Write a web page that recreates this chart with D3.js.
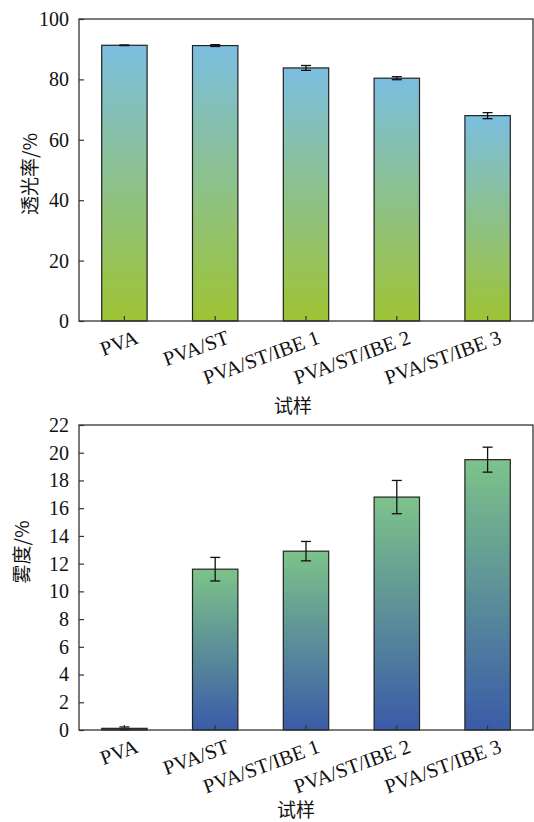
<!DOCTYPE html>
<html>
<head>
<meta charset="utf-8">
<script src="https://cdn.jsdelivr.net/npm/d3@7"></script>
<style>
  body { margin: 0; background: #fff; }
  text { font-family: "Liberation Serif", "Times New Roman", "Noto Sans CJK SC", serif; fill: #111; }
</style>
</head>
<body>
<svg id="chart" width="534" height="822"></svg>
<script>
// samples
var samples = ["PVA", "PVA/ST", "PVA/ST/IBE 1", "PVA/ST/IBE 2", "PVA/ST/IBE 3"];

// transmittance (%) and its error
var transValues = [91.3, 91.2, 83.8, 80.4, 68.0];
var transErrors = [0.1, 0.3, 0.8, 0.5, 1.0];
var transTicks = [0, 20, 40, 60, 80, 100];

// haze (%) and its error
var hazeValues = [0.12, 11.6, 12.9, 16.8, 19.5];
var hazeErrors = [0.1, 0.85, 0.7, 1.2, 0.9];
var hazeTicks = [0, 2, 4, 6, 8, 10, 12, 14, 16, 18, 20, 22];

var svg = d3.select("#chart");
var defs = svg.append("defs");

function makeGradient(id, topColor, bottomColor) {
    var g = defs.append("linearGradient")
        .attr("id", id)
        .attr("x1", 0).attr("y1", 0)
        .attr("x2", 0).attr("y2", 1);
    g.append("stop").attr("offset", "0%").attr("stop-color", topColor);
    g.append("stop").attr("offset", "100%").attr("stop-color", bottomColor);
}
makeGradient("gradTrans", "#7bbee0", "#9ec434");
makeGradient("gradHaze", "#7dc38a", "#3a5ba8");

function drawPanel(opt) {
    var x = d3.scaleBand()
        .domain(samples)
        .range([opt.left, opt.right])
        .paddingInner(0.5)
        .paddingOuter(0.25);

    var y = d3.scaleLinear()
        .domain(opt.domain)
        .range([opt.bottom, opt.top]);

    var g = svg.append("g");

    // bars
    g.selectAll(".bar")
        .data(opt.values)
        .enter()
        .append("rect")
        .attr("x", function(d, i) { return x(samples[i]); })
        .attr("width", x.bandwidth())
        .attr("y", function(d) { return y(d); })
        .attr("height", function(d) { return opt.bottom - y(d); })
        .style("fill", "url(#" + opt.grad + ")")
        .style("stroke", "#222")
        .style("stroke-width", 1.2);

    // error bars
    var cap = 5;
    var eb = g.selectAll(".err")
        .data(opt.values)
        .enter()
        .append("g")
        .attr("transform", function(d, i) {
            return "translate(" + (x(samples[i]) + x.bandwidth() / 2) + ",0)";
        });
    eb.append("line")
        .attr("y1", function(d, i) { return y(d + opt.errors[i]); })
        .attr("y2", function(d, i) { return y(Math.max(0, d - opt.errors[i])); })
        .style("stroke", "#111").style("stroke-width", 1.3);
    eb.append("line")
        .attr("x1", -cap).attr("x2", cap)
        .attr("y1", function(d, i) { return y(d + opt.errors[i]); })
        .attr("y2", function(d, i) { return y(d + opt.errors[i]); })
        .style("stroke", "#111").style("stroke-width", 1.3);
    eb.append("line")
        .attr("x1", -cap).attr("x2", cap)
        .attr("y1", function(d, i) { return y(Math.max(0, d - opt.errors[i])); })
        .attr("y2", function(d, i) { return y(Math.max(0, d - opt.errors[i])); })
        .style("stroke", "#111").style("stroke-width", 1.3);

    // frame
    g.append("rect")
        .attr("x", opt.left)
        .attr("y", opt.top)
        .attr("width", opt.right - opt.left)
        .attr("height", opt.bottom - opt.top)
        .style("fill", "none")
        .style("stroke", "#333")
        .style("stroke-width", 1.3);

    // y axis, ticks pointing inward
    var yAxis = d3.axisLeft(y)
        .tickValues(opt.ticks)
        .tickSize(-5)
        .tickPadding(10)
        .tickFormat(d3.format("d"));
    var ya = g.append("g")
        .attr("transform", "translate(" + opt.left + ",0)")
        .call(yAxis);
    ya.select(".domain").remove();
    ya.selectAll("line").style("stroke", "#333").style("stroke-width", 1.2);
    ya.selectAll("text")
        .style("font-size", "20px")
        .style("font-family", "'Liberation Serif', serif")
        .attr("fill", "#111");

    // x ticks, inward
    g.selectAll(".xtick")
        .data(samples)
        .enter()
        .append("line")
        .attr("x1", function(d) { return x(d) + x.bandwidth() / 2; })
        .attr("x2", function(d) { return x(d) + x.bandwidth() / 2; })
        .attr("y1", opt.bottom)
        .attr("y2", opt.bottom - 5)
        .style("stroke", "#333")
        .style("stroke-width", 1.2);

    // x labels, rotated
    g.selectAll(".xlab")
        .data(samples)
        .enter()
        .append("text")
        .attr("text-anchor", "end")
        .attr("transform", function(d) {
            var cx = x(d) + x.bandwidth() / 2;
            return "translate(" + (cx + 15) + "," + (opt.bottom + 22) + ") rotate(-20)";
        })
        .style("font-size", "20.5px")
        .text(function(d) { return d; });

    // axis titles
    g.append("text")
        .attr("text-anchor", "middle")
        .attr("x", opt.xTitleX)
        .attr("y", opt.xTitleY)
        .style("font-size", "19px")
        .style("font-family", "'Noto Sans CJK SC', sans-serif")
        .text("试样");

    g.append("text")
        .attr("text-anchor", "middle")
        .attr("transform", "translate(" + opt.yTitleX + "," + opt.yTitleY + ") rotate(-90)")
        .style("font-size", "19px")
        .style("font-family", "'Noto Sans CJK SC', sans-serif")
        .text(opt.yTitle);
}

drawPanel({
    values: transValues, errors: transErrors, ticks: transTicks,
    domain: [0, 100], grad: "gradTrans",
    left: 79, right: 533, top: 19, bottom: 321,
    yTitle: "透光率/%", yTitleX: 37, yTitleY: 174,
    xTitleX: 293, xTitleY: 413
});

drawPanel({
    values: hazeValues, errors: hazeErrors, ticks: hazeTicks,
    domain: [0, 22], grad: "gradHaze",
    left: 79, right: 533, top: 425, bottom: 730,
    yTitle: "雾度/%", yTitleX: 29, yTitleY: 552,
    xTitleX: 296, xTitleY: 817
});
</script>
</body>
</html>
